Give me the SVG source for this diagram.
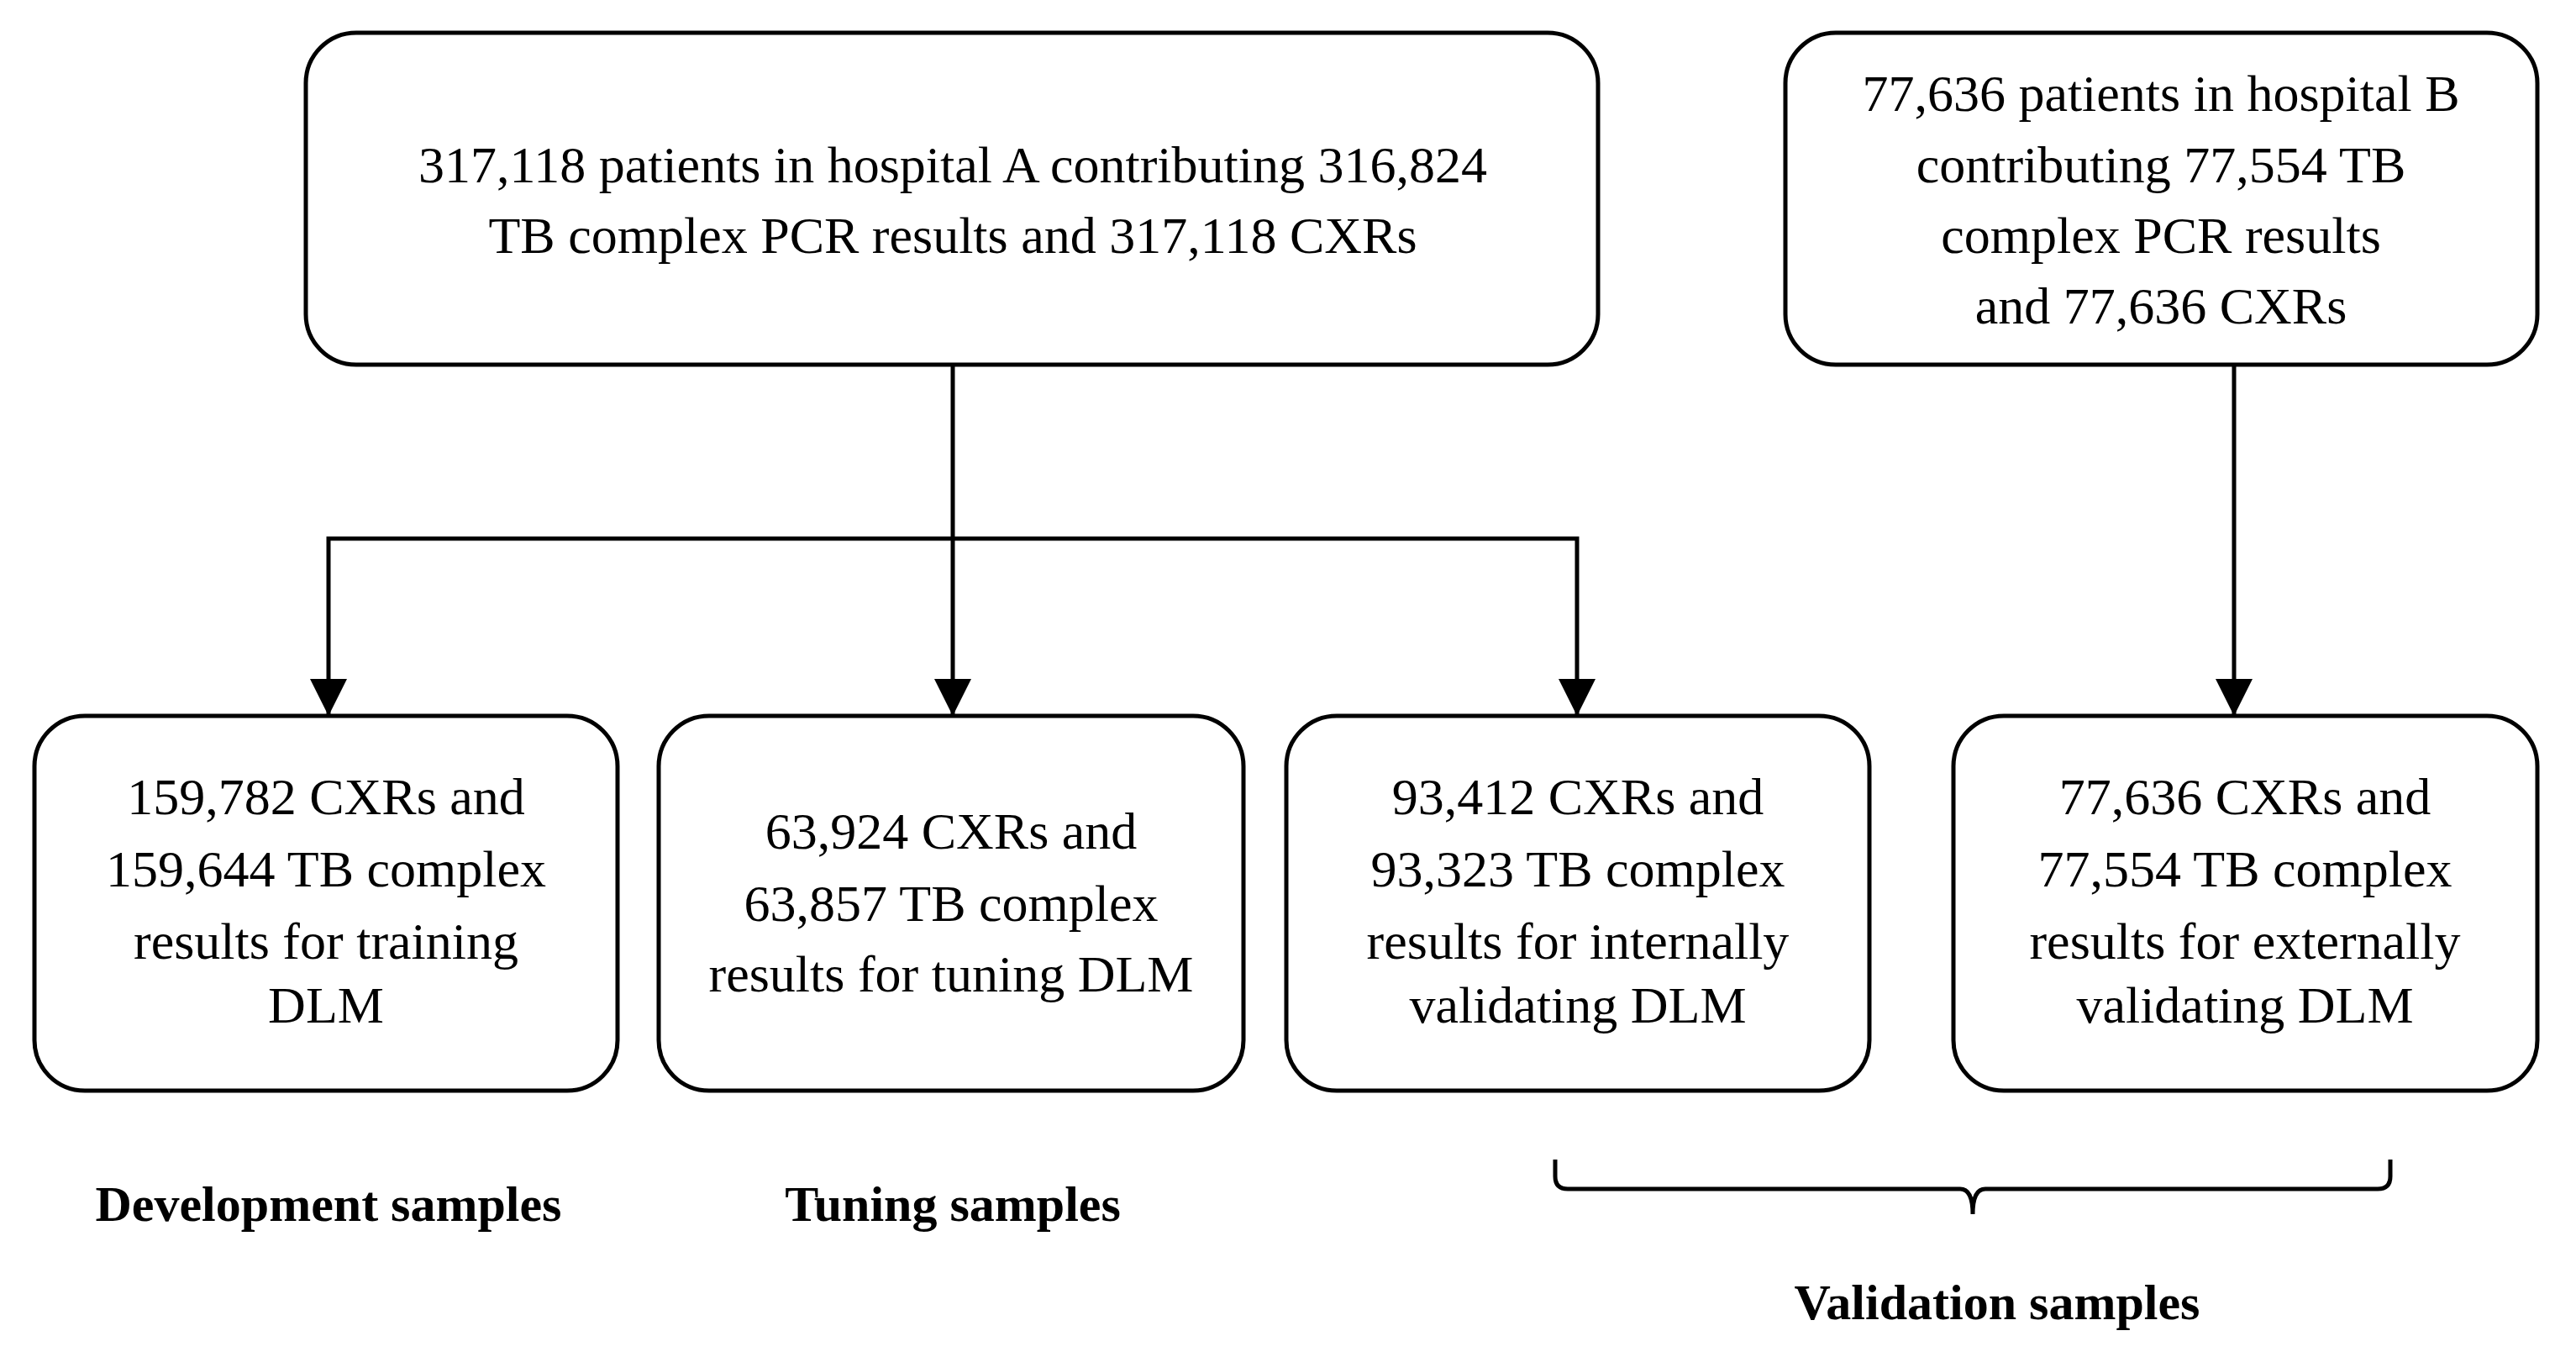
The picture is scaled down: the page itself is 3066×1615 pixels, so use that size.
<svg xmlns="http://www.w3.org/2000/svg" width="3066" height="1615" viewBox="0 0 3066 1615">
<style>
.box{fill:#fff;stroke:#000;stroke-width:5}
.t{font-family:"Liberation Serif",serif;font-size:62px;text-anchor:middle;dominant-baseline:central;fill:#000}
.b{font-family:"Liberation Serif",serif;font-size:60px;font-weight:bold;text-anchor:middle;dominant-baseline:central;fill:#000}
.c{fill:none;stroke:#000;stroke-width:5}
</style>
<defs><marker id="ah" viewBox="0 0 10 10" refX="10" refY="5" markerWidth="8" markerHeight="8" markerUnits="userSpaceOnUse" orient="auto" style="overflow:visible"><path d="M0,0 L10,5 L0,10 Z" transform="scale(4.5)" fill="#000"/></marker></defs>
<g id="connectors">
<path class="c" d="M1134,434 V852"/>
<path class="c" d="M1134,641 H391 V852"/>
<path class="c" d="M1134,641 H1877 V852"/>
<path class="c" d="M2659,434 V852"/>
<path fill="#000" d="M1112,808 L1156,808 L1134,852 Z M369,808 L413,808 L391,852 Z M1855,808 L1899,808 L1877,852 Z M2637,808 L2681,808 L2659,852 Z"/>
</g>
<g id="nodeA"><rect class="box" x="364" y="39" width="1538" height="395" rx="60"/>
<text class="t" x="1134" y="196">317,118 patients in hospital A contributing 316,824</text>
<text class="t" x="1134" y="280">TB complex PCR results and 317,118 CXRs</text></g>
<g id="nodeB"><rect class="box" x="2125" y="39" width="895" height="395" rx="60"/>
<text class="t" x="2572" y="111">77,636 patients in hospital B</text>
<text class="t" x="2572" y="196">contributing 77,554 TB</text>
<text class="t" x="2572" y="280">complex PCR results</text>
<text class="t" x="2572" y="364">and 77,636 CXRs</text></g>
<g id="dev"><rect class="box" x="41" y="852" width="694" height="446" rx="60"/>
<text class="t" x="388" y="948">159,782 CXRs and</text>
<text class="t" x="388" y="1034">159,644 TB complex</text>
<text class="t" x="388" y="1120">results for training</text>
<text class="t" x="388" y="1196">DLM</text></g>
<g id="tune"><rect class="box" x="784" y="852" width="696" height="446" rx="60"/>
<text class="t" x="1132" y="989">63,924 CXRs and</text>
<text class="t" x="1132" y="1075">63,857 TB complex</text>
<text class="t" x="1132" y="1159">results for tuning DLM</text></g>
<g id="intval"><rect class="box" x="1531" y="852" width="694" height="446" rx="60"/>
<text class="t" x="1878" y="948">93,412 CXRs and</text>
<text class="t" x="1878" y="1034">93,323 TB complex</text>
<text class="t" x="1878" y="1120">results for internally</text>
<text class="t" x="1878" y="1196">validating DLM</text></g>
<g id="extval"><rect class="box" x="2325" y="852" width="695" height="446" rx="60"/>
<text class="t" x="2672" y="948">77,636 CXRs and</text>
<text class="t" x="2672" y="1034">77,554 TB complex</text>
<text class="t" x="2672" y="1120">results for externally</text>
<text class="t" x="2672" y="1196">validating DLM</text></g>
<g id="labels">
<text class="b" x="391" y="1433">Development samples</text>
<text class="b" x="1134" y="1433">Tuning samples</text>
<text class="b" x="2377" y="1550">Validation samples</text>
<path class="c" d="M1851,1380 V1400 Q1851,1415 1866,1415 H2333 Q2348,1415 2348,1445 Q2348,1415 2363,1415 H2830 Q2845,1415 2845,1400 V1380"/>
</g>
</svg>
